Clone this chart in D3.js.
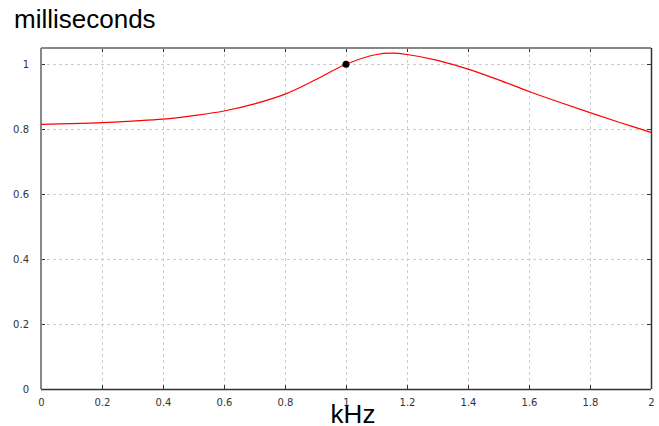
<!DOCTYPE html>
<html lang="en">
<head>
  <meta charset="UTF-8" />
  <title>milliseconds vs kHz</title>
  <script src="https://cdn.jsdelivr.net/npm/d3@7"></script>
  <style>
    body { margin: 0; background: #fff; font-family: Arial, "Liberation Sans", sans-serif; }
    .tick text { fill: #333; font-size: 10px; font-family: Tahoma, "DejaVu Sans", sans-serif; }
  </style>
</head>
<body>
  <div id="chart"></div>
  <script>
    // values
    var freqKHz = [0, 0.1, 0.2, 0.3, 0.4, 0.5, 0.6, 0.7, 0.8, 0.9, 1.0, 1.1, 1.15, 1.2, 1.3, 1.4, 1.5, 1.6, 1.7, 1.8, 1.9, 2.0];
    var delayMs = [0.815, 0.817, 0.82, 0.825, 0.831, 0.842, 0.856, 0.878, 0.908, 0.952, 1.0, 1.03, 1.034, 1.03, 1.012, 0.985, 0.952, 0.916, 0.883, 0.851, 0.82, 0.79];
    var marker = { f: 1.0, v: 1.0 };
    var xTicks = [0, 0.2, 0.4, 0.6, 0.8, 1, 1.2, 1.4, 1.6, 1.8, 2];
    var yTicks = [0, 0.2, 0.4, 0.6, 0.8, 1];

    var width = 659, height = 426;
    // plot area (window.top is reserved, so use a small margin object)
    var m = { left: 41, right: 651, top: 48, bottom: 389 };

    var svg = d3.select("#chart").append("svg")
      .attr("width", width)
      .attr("height", height);

    var x = d3.scaleLinear().domain([0, 2]).range([m.left, m.right]);
    var y = d3.scaleLinear().domain([0, 1.05]).range([m.bottom, m.top]);

    // grid
    svg.append("g").selectAll("line").data(xTicks.slice(1, -1)).join("line")
      .attr("x1", d => Math.round(x(d)) + 0.5).attr("x2", d => Math.round(x(d)) + 0.5)
      .attr("y1", m.top).attr("y2", m.bottom)
      .attr("stroke", "#ccc").attr("stroke-dasharray", "3,3");
    svg.append("g").selectAll("line").data(yTicks.slice(1)).join("line")
      .attr("x1", m.left).attr("x2", m.right)
      .attr("y1", d => Math.round(y(d)) + 0.5).attr("y2", d => Math.round(y(d)) + 0.5)
      .attr("stroke", "#ccc").attr("stroke-dasharray", "3,3");

    // axes (labels only)
    var xAxis = d3.axisBottom(x).tickValues(xTicks).tickSize(0).tickPadding(10).tickFormat(d3.format("~g"));
    var yAxis = d3.axisLeft(y).tickValues(yTicks).tickSize(0).tickPadding(12).tickFormat(d3.format("~g"));
    var gx = svg.append("g").attr("transform", "translate(0," + m.bottom + ")").call(xAxis);
    var gy = svg.append("g").attr("transform", "translate(" + m.left + ",0)").call(yAxis);
    gx.select(".domain").remove();
    gy.select(".domain").remove();

    // small inner ticks
    svg.append("g").selectAll("line").data(xTicks).join("line")
      .attr("x1", d => Math.round(x(d)) + 0.5).attr("x2", d => Math.round(x(d)) + 0.5)
      .attr("y1", m.top).attr("y2", m.top + 4).attr("stroke", "#333");
    svg.append("g").selectAll("line").data(xTicks).join("line")
      .attr("x1", d => Math.round(x(d)) + 0.5).attr("x2", d => Math.round(x(d)) + 0.5)
      .attr("y1", m.bottom - 4).attr("y2", m.bottom).attr("stroke", "#333");
    svg.append("g").selectAll("line").data(yTicks).join("line")
      .attr("x1", m.left).attr("x2", m.left + 4)
      .attr("y1", d => Math.round(y(d)) + 0.5).attr("y2", d => Math.round(y(d)) + 0.5).attr("stroke", "#333");
    svg.append("g").selectAll("line").data(yTicks).join("line")
      .attr("x1", m.right - 4).attr("x2", m.right)
      .attr("y1", d => Math.round(y(d)) + 0.5).attr("y2", d => Math.round(y(d)) + 0.5).attr("stroke", "#333");

    // frame
    svg.append("line").attr("x1", m.left).attr("x2", m.right).attr("y1", m.top).attr("y2", m.top)
      .attr("stroke", "#888").attr("stroke-width", 2);
    svg.append("line").attr("x1", m.left).attr("x2", m.left).attr("y1", m.top).attr("y2", m.bottom)
      .attr("stroke", "#888").attr("stroke-width", 2);
    svg.append("line").attr("x1", m.left).attr("x2", m.right).attr("y1", m.bottom + 0.5).attr("y2", m.bottom + 0.5)
      .attr("stroke", "#333").attr("stroke-width", 1.5);
    svg.append("line").attr("x1", m.right + 0.5).attr("x2", m.right + 0.5).attr("y1", m.top).attr("y2", m.bottom)
      .attr("stroke", "#333").attr("stroke-width", 1.5);

    // curve
    var line = d3.line()
      .x((d, i) => x(freqKHz[i]))
      .y(d => y(d))
      .curve(d3.curveCatmullRom);
    svg.append("path")
      .datum(delayMs)
      .attr("d", line)
      .attr("fill", "none")
      .attr("stroke", "#ff0000")
      .attr("stroke-width", 1.2);

    svg.append("circle")
      .attr("cx", x(marker.f)).attr("cy", y(marker.v))
      .attr("r", 3.5).attr("fill", "#000");

    // labels
    svg.append("text").attr("x", 14).attr("y", 28)
      .attr("font-size", 26).attr("fill", "#000").text("milliseconds");
    svg.append("text").attr("x", 353).attr("y", 423)
      .attr("text-anchor", "middle").attr("font-size", 26).attr("fill", "#000").text("kHz");
  </script>
</body>
</html>
